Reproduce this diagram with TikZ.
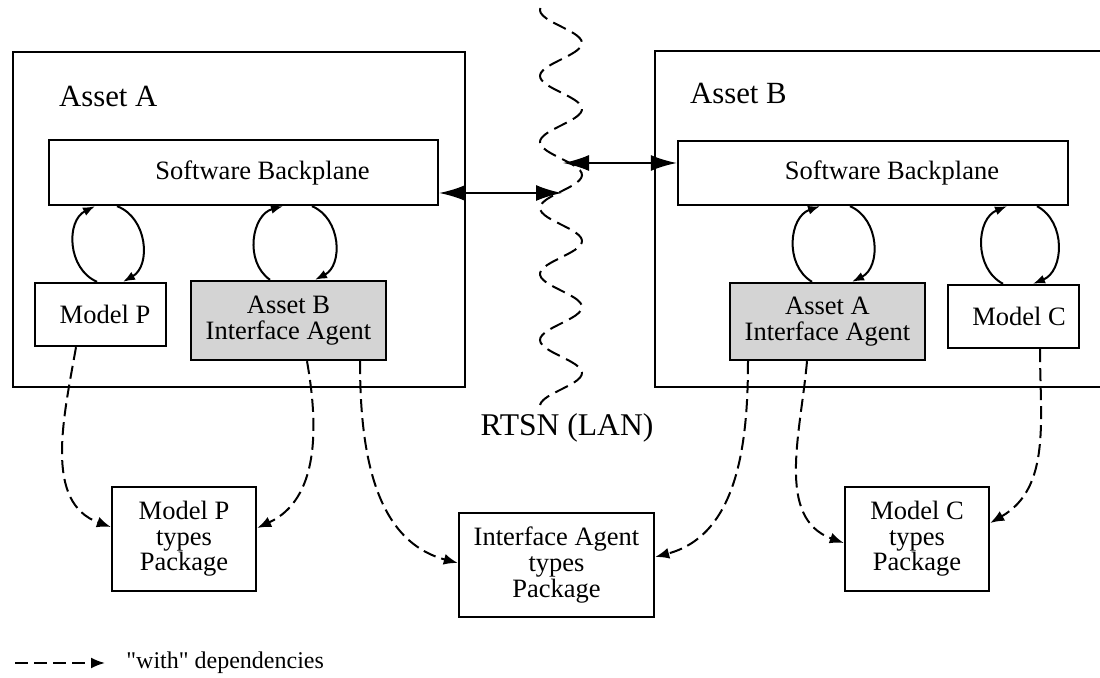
\documentclass[tikz,border=0pt]{standalone}
\usepackage{fontspec}
\setmainfont{Liberation Serif}
\usetikzlibrary{arrows.meta, calc}

\begin{document}
\begin{tikzpicture}[
    x=0.5pt, y=-0.5pt,
    frame/.style={draw, line width=1.4pt, inner sep=0pt},
    box/.style={draw, line width=1.2pt, inner sep=0pt, align=center,
        font=\fontsize{13.25}{12.8}\selectfont},
    agent/.style={box, fill=black!17},
    cycle/.style={-{Latex[length=6pt,width=4.5pt]}, line width=1pt, bend left=65, looseness=1.1},
    dep/.style={-{Latex[length=7pt,width=5.5pt]}, line width=1pt, dash pattern=on 6.5pt off 3pt},
    link/.style={{Latex[length=13pt,width=8pt]}-{Latex[length=13pt,width=8pt]}, line width=1pt},
    big/.style={font=\fontsize{15.4}{18}\selectfont}
]
    \useasboundingbox (0,0) rectangle (1100,678);

    % Assets
    \node[frame, minimum width=226pt, minimum height=167.5pt] (assetA) at (239,219.5) {};
    \draw[line width=1.4pt] (1100,51) -| (655,387) -- (1100,387);
    \node[big, anchor=base west] (labA) at (52,107) {Asset A};
    \node[big, anchor=base west] (labB) at (683,104) {Asset B};

    % Asset A contents
    \node[box, minimum width=194.5pt, minimum height=32.5pt] (bpA) at (243.5,172.5) {\hspace*{19pt}Software Backplane};
    \node[box, minimum width=65.5pt, minimum height=31.5pt] (mP) at (100.5,314.5) {\hspace*{4.5pt}Model P};
    \node[agent, minimum width=97.5pt, minimum height=39.5pt] (IAB) at (288.5,320.5) {Asset B\\Interface Agent};

    % Asset B contents
    \node[box, minimum width=195pt, minimum height=32pt] (bpB) at (873,173) {\hspace*{19pt}Software Backplane};
    \node[agent, minimum width=97.5pt, minimum height=38.5pt] (IAA) at (827.5,321.5) {Asset A\\Interface Agent};
    \node[box, minimum width=65.5pt, minimum height=31.5pt] (mC) at (1013.5,316.5) {\hspace*{5.5pt}Model C};

    % Packages
    \node[box, minimum width=72pt, minimum height=52pt] (MPt) at (184,539) {Model P\\types\\Package};
    \node[box, minimum width=97.5pt, minimum height=52pt] (IAt) at (556.5,565) {Interface Agent\\types\\Package};
    \node[box, minimum width=72pt, minimum height=52pt] (MCt) at (917,539) {Model C\\types\\Package};

    % Network
    \draw[line width=1pt, dash pattern=on 7pt off 3.5pt]
        plot[variable=\t, domain=8:405, samples=160, smooth] ({561+21*cos((\t-43)/66*360)}, \t);
    \node[big, font=\fontsize{15.8}{18}\selectfont] (lan) at (567,428) {RTSN (LAN)};
    \coordinate (lanL) at (562,193);
    \coordinate (lanR) at (563,163);
    \draw[link] ($(bpA.east)+(0,20.5)$) -- (lanL);
    \draw[link] (lanR) -- ($(bpB.west)+(0,-10)$);

    % Backplane cycles
    \draw[cycle] ($(mP.north)+(-3.5,0)$) to ($(bpA.south -| mP.north)+(-5.5,0)$);
    \draw[cycle] ($(bpA.south -| mP.north)+(16.5,0)$) to ($(mP.north)+(22.5,0)$);
    \draw[cycle] ($(IAB.north)+(-18.5,0)$) to ($(bpA.south -| IAB.north)+(-5.5,0)$);
    \draw[cycle] ($(bpA.south -| IAB.north)+(23.5,0)$) to ($(IAB.north)+(26.5,0)$);
    \draw[cycle] ($(IAA.north)+(-15.5,0)$) to ($(bpB.south -| IAA.north)+(-7.5,0)$);
    \draw[cycle] ($(bpB.south -| IAA.north)+(22.5,0)$) to ($(IAA.north)+(24.5,0)$);
    \draw[cycle] ($(mC.north)+(-10.5,0)$) to ($(bpB.south -| mC.north)+(-6.5,0)$);
    \draw[cycle] ($(bpB.south -| mC.north)+(23.5,0)$) to ($(mC.north)+(19.5,0)$);

    % "with" dependencies
    \draw[dep] ($(mP.south)+(-24.5,0)$) to[out=-100, in=160] ($(MPt.west)+(0,-12)$);
    \draw[dep] ($(IAB.south)+(18.5,0)$) to[out=-80, in=25] ($(MPt.east)+(0,-11)$);
    \draw[dep] ($(IAB.south)+(71.5,0)$) to[out=-90, in=165] ($(IAt.west)+(0,-2)$);
    \draw[dep] ($(IAA.south)+(-79.5,0)$) to[out=-90, in=15] ($(IAt.east)+(0,-8)$);
    \draw[dep] ($(IAA.south)+(-20.5,0)$) to[out=-95, in=160] ($(MCt.west)+(0,4)$);
    \draw[dep] ($(mC.south)+(26.5,0)$) to[out=-90, in=30] ($(MCt.east)+(0,-16)$);

    % Legend
    \coordinate (keyS) at (15,663);
    \node[anchor=west, inner sep=0pt, font=\fontsize{12}{14}\selectfont] (key) at (126,663) {\textquotedbl with\textquotedbl{} dependencies};
    \draw[dep] (keyS) -- ($(key.west)+(-21,0)$);

\end{tikzpicture}
\end{document}
